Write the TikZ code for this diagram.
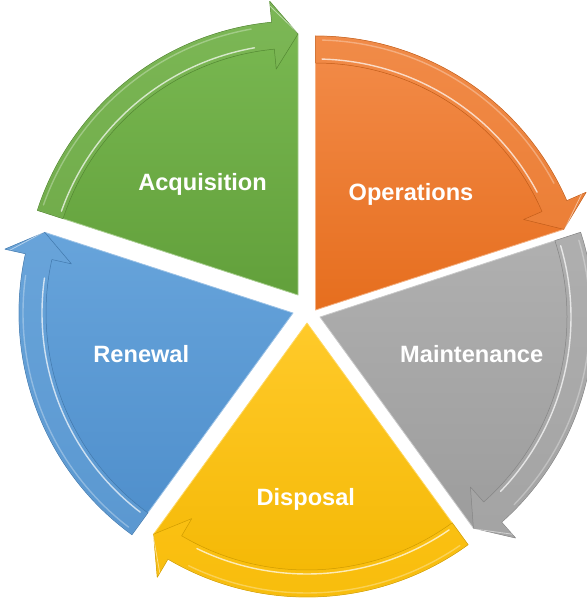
\documentclass[tikz,border=0pt]{standalone}
\usepackage{fontspec}
\setmainfont{Liberation Sans}
\usetikzlibrary{calc}
\definecolor{gbase}{HTML}{70AD47}\definecolor{gtop}{HTML}{7BBA53}\definecolor{gbot}{HTML}{62A03B}
\definecolor{obase}{HTML}{ED7D31}\definecolor{otop}{HTML}{F38C4A}\definecolor{obot}{HTML}{E66E1E}
\definecolor{sbase}{HTML}{A5A5A5}\definecolor{stop}{HTML}{B0B0B0}\definecolor{sbot}{HTML}{9C9C9C}
\definecolor{ybase}{HTML}{FFC000}\definecolor{ytop}{HTML}{FFCA2A}\definecolor{ybot}{HTML}{F3B600}
\definecolor{bbase}{HTML}{5B9BD5}\definecolor{btop}{HTML}{67A4DB}\definecolor{bbot}{HTML}{4E8ECB}
\newcommand\cycseg[6]{%
  % #1 name, #2 apex x, #3 apex y, #4 start angle, #5 colour prefix, #6 label
  \coordinate (#1) at (#2,#3);
  \pgfmathsetmacro\segE{#4-72}
  \pgfmathsetmacro\segH{#4-66.5}
  \pgfmathsetmacro\segS{#4-1.5}
  \pgfmathsetmacro\segT{#4-62}
  % wedge silhouette
  \path[wedge, top color=#5top, bottom color=#5bot, draw=#5base!60!white]
    (#1) -- ($(#1)+(#4:274pt)$) arc[start angle=#4, end angle=\segH, radius=274pt]
    -- ($(#1)+(\segH:295pt)$) -- ($(#1)+(\segE:261pt)$) -- cycle;
  % arrow band
  \path[band, fill=#5base!90!white, fill opacity=0.45, draw=#5bot!85!black]
    ($(#1)+(#4:274pt)$) arc[start angle=#4, end angle=\segH, radius=274pt]
    -- ($(#1)+(\segH:295pt)$) -- ($(#1)+(\segE:261pt)$) -- ($(#1)+(\segH:227pt)$)
    -- ($(#1)+(\segH:247pt)$) arc[start angle=\segH, end angle=#4, radius=247pt] -- cycle;
  % highlights
  \draw[hilite] ($(#1)+(\segS:251pt)$) arc[start angle=\segS, end angle=\segT, radius=251pt];
  \draw[hilite, opacity=0.3] ($(#1)+(\segS:270pt)$) arc[start angle=\segS, end angle=\segT, radius=270pt];
  \draw[hilite, opacity=0.5, line width=0.8pt] ($(#1)+(\segH:290pt)$) -- ($(#1)+(\segE:262pt)$);
  \node[lbl] (#1lbl) at #6;
}
\begin{document}
\begin{tikzpicture}[x=1pt,y=1pt,
  wedge/.style={line width=0.8pt, line join=round},
  band/.style={line width=0.5pt, line join=round},
  hilite/.style={draw=white, line width=1.4pt, opacity=0.7, line cap=round},
  lbl/.style={text=white, font=\bfseries\fontsize{23.6}{28}\selectfont, anchor=base, inner sep=0pt}]
\useasboundingbox (0,0) rectangle (587,598);
\cycseg{acq}{298}{303}{162}{g}{(202.5,407.3) {Acquisition}}
\cycseg{ops}{315.5}{288}{90}{o}{(411,397.3) {Operations}}
\cycseg{mnt}{320}{281}{18}{s}{(471.7,235.7) {Maintenance}}
\cycseg{dsp}{307}{275}{-54}{y}{(305.8,92.3) {Disposal}}
\cycseg{rnw}{293}{285}{-126}{b}{(141.3,235.7) {Renewal}}
\end{tikzpicture}
\end{document}
